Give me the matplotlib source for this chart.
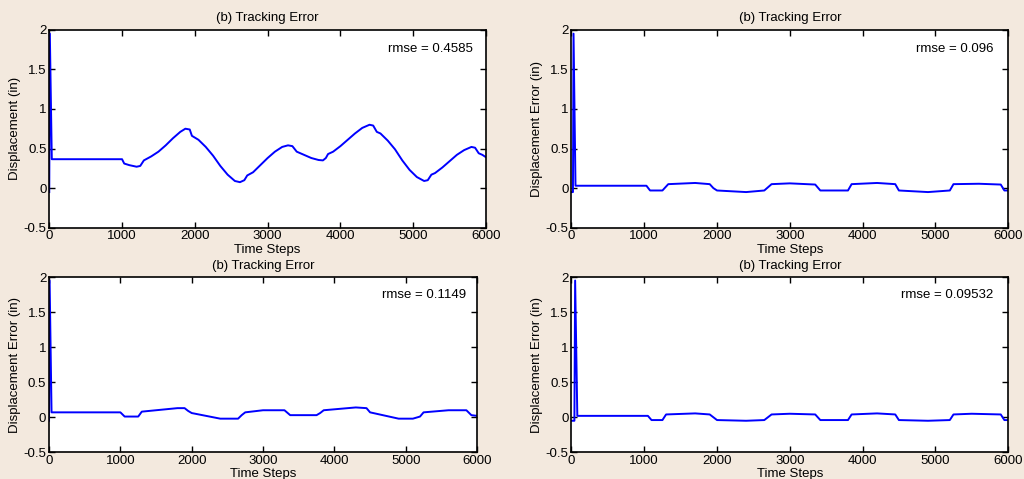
import matplotlib
matplotlib.use("Agg")
import matplotlib.pyplot as plt

plt.rcParams['font.family'] = ['Liberation Sans', 'DejaVu Sans']

# ---- data ----
title = "(b) Tracking Error"
xlabel = "Time Steps"
xticks = [0, 1000, 2000, 3000, 4000, 5000, 6000]
yticks = [-0.5, 0, 0.5, 1, 1.5, 2]
ytick_labels = ["-0.5", "0", "0.5", "1", "1.5", "2"]

# panel 1 (top-left)
p1_label = "Displacement (in)"
p1_rmse = "rmse = 0.4585"
p1_x = [0, 8, 35, 1000, 1030, 1100, 1200, 1250, 1300, 1400, 1500, 1600, 1700, 1800,
        1870, 1930, 1960, 2050, 2150, 2250, 2350, 2450, 2550, 2620, 2680, 2720, 2800,
        2900, 3000, 3100, 3200, 3280, 3340, 3400, 3500, 3600, 3700, 3760, 3800, 3830,
        3900, 4000, 4100, 4200, 4300, 4400, 4450, 4500, 4550, 4650, 4750, 4850, 4950,
        5050, 5150, 5200, 5250, 5300, 5400, 5500, 5600, 5700, 5800, 5850, 5900, 5950, 6000]
p1_y = [-0.05, 1.95, 0.365, 0.365, 0.31, 0.29, 0.27, 0.28, 0.35, 0.40, 0.46, 0.54, 0.63, 0.71,
        0.75, 0.74, 0.66, 0.61, 0.52, 0.41, 0.28, 0.17, 0.09, 0.075, 0.10, 0.16, 0.20,
        0.29, 0.38, 0.46, 0.52, 0.54, 0.53, 0.46, 0.42, 0.38, 0.355, 0.35, 0.38, 0.43,
        0.46, 0.53, 0.61, 0.69, 0.76, 0.80, 0.79, 0.71, 0.69, 0.60, 0.49, 0.35, 0.23,
        0.14, 0.09, 0.10, 0.17, 0.19, 0.26, 0.34, 0.42, 0.48, 0.52, 0.51, 0.44, 0.42, 0.39]

# panel 2 (top-right)
p2_label = "Displacement Error (in)"
p2_rmse = "rmse = 0.096"
p2_x = [0, 20, 28, 55, 1030, 1080, 1250, 1330, 1700, 1900, 1950, 2000, 2400, 2650, 2750,
        3000, 3350, 3420, 3800, 3850, 4200, 4450, 4500, 4900, 5200, 5250, 5600, 5900, 5950, 6000]
p2_y = [-0.05, -0.05, 1.95, 0.03, 0.03, -0.03, -0.03, 0.05, 0.065, 0.05, 0.0, -0.03, -0.05, -0.03, 0.05,
        0.06, 0.045, -0.03, -0.03, 0.05, 0.065, 0.05, -0.03, -0.05, -0.03, 0.05, 0.055, 0.045, -0.03, -0.03]

# panel 3 (bottom-left)
p3_label = "Displacement Error (in)"
p3_rmse = "rmse = 0.1149"
p3_x = [0, 8, 35, 1000, 1030, 1060, 1250, 1300, 1500, 1800, 1900, 1950, 2000, 2400, 2650, 2700,
        2750, 3000, 3300, 3380, 3750, 3800, 3850, 4300, 4450, 4500, 4900, 5100, 5200, 5250, 5600,
        5850, 5920, 6000]
p3_y = [-0.05, 1.95, 0.07, 0.07, 0.04, 0.01, 0.01, 0.08, 0.10, 0.13, 0.13, 0.09, 0.06, -0.02, -0.02, 0.03,
        0.07, 0.10, 0.10, 0.03, 0.03, 0.06, 0.10, 0.14, 0.13, 0.07, -0.02, -0.02, 0.01, 0.07, 0.10,
        0.10, 0.03, 0.02]

# panel 4 (bottom-right)
p4_label = "Displacement Error (in)"
p4_rmse = "rmse = 0.09532"
p4_x = [0, 40, 50, 80, 1050, 1100, 1250, 1300, 1700, 1900, 1950, 2000, 2400, 2650, 2700, 2750,
        3000, 3350, 3420, 3800, 3850, 4200, 4450, 4500, 4900, 5200, 5250, 5500, 5900, 5950, 6000]
p4_y = [-0.05, -0.05, 1.95, 0.02, 0.02, -0.04, -0.04, 0.04, 0.055, 0.04, 0.0, -0.04, -0.05, -0.04, 0.0, 0.04,
        0.05, 0.04, -0.04, -0.04, 0.04, 0.055, 0.04, -0.04, -0.05, -0.04, 0.04, 0.05, 0.04, -0.04, -0.04]

panels = [
    (p1_x, p1_y, p1_label, p1_rmse, 4650, [0.0481, 0.5246, 0.4265, 0.4134]),
    (p2_x, p2_y, p2_label, p2_rmse, 4740, [0.5581, 0.5246, 0.4263, 0.4134]),
    (p3_x, p3_y, p3_label, p3_rmse, 4670, [0.0479, 0.0557, 0.4180, 0.3660]),
    (p4_x, p4_y, p4_label, p4_rmse, 4530, [0.5581, 0.0557, 0.4263, 0.3660]),
]

fig = plt.figure(figsize=(10.24, 4.79), dpi=100, facecolor='#f3e9de')

fs = 9.5
for x, y, ylab, rmse, tx, rect in panels:
    ax = fig.add_axes(rect)
    ax.set_facecolor('white')
    ax.plot(x, y, color='#0000ff', linewidth=1.4)
    ax.set_xlim(0, 6000)
    ax.set_ylim(-0.5, 2)
    ax.set_xticks(xticks)
    ax.set_yticks(yticks)
    ax.set_yticklabels(ytick_labels)
    ax.tick_params(direction='in', length=4, width=1, top=True, right=True,
                   labelsize=fs, pad=2, colors='black')
    for s in ax.spines.values():
        s.set_linewidth(1.2)
        s.set_color('black')
    ax.set_title(title, fontsize=fs, pad=6)
    ax.set_xlabel(xlabel, fontsize=fs, labelpad=1)
    ax.set_ylabel(ylab, fontsize=fs, labelpad=2)
    ax.text(tx, 1.75, rmse, fontsize=fs, ha='left', va='center')

fig.savefig("out.png", dpi=100, facecolor=fig.get_facecolor())
